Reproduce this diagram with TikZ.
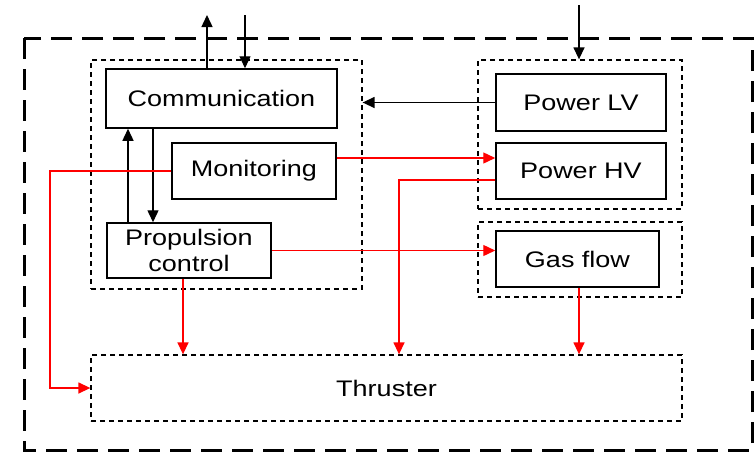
\documentclass[tikz,border=0pt]{standalone}
\usepackage{fontspec}
\setmainfont{Liberation Sans}[FakeStretch=1.2]
\usepackage{xcolor}
\usepackage{tikz}
\usetikzlibrary{arrows.meta, positioning, calc}

\tikzset{
  block/.style={draw, line width=1.5pt, inner sep=0pt, align=center},
  group/.style={draw, line width=1.3pt, dash pattern=on 5pt off 4pt, inner sep=0pt},
  arr/.style={line width=1.4pt, -{Triangle[length=12pt,width=11pt]}},
  redarr/.style={arr, red},
  redline/.style={line width=1.4pt, red}
}

\begin{document}
\begin{tikzpicture}[x=1pt, y=-1pt, font=\fontsize{22.5}{27}\selectfont]
\useasboundingbox (0,0) rectangle (756,453);

% outer frame
\draw[line width=3pt, dash pattern=on 21pt off 10pt] (24,38) rectangle (752,450);

% groups
\node[group, minimum width=271pt, minimum height=229pt] (ctrlgrp) at (226.5,174.5) {};
\node[group, minimum width=204pt, minimum height=149pt] (pwrgrp) at (580,134.5) {};
\node[group, minimum width=204pt, minimum height=75pt] (gasgrp) at (580,259.5) {};
\node[group, minimum width=591pt, minimum height=66pt] (thr) at (386.5,388) {Thruster};

% blocks
\node[block, minimum width=231pt, minimum height=59pt] (comm) at (221.5,98.5) {Communication};
\node[block, minimum width=164pt, minimum height=56pt] (mon) at (254,171) {Monitoring};
\node[block, minimum width=164pt, minimum height=55pt] (prop) at (189,250.5) {Propulsion\\[-1pt]control};
\node[block, minimum width=170pt, minimum height=57pt] (plv) at (581,102.5) {Power LV};
\node[block, minimum width=170pt, minimum height=56pt] (phv) at (581,171) {Power HV};
\node[block, minimum width=163pt, minimum height=56pt] (gas) at (577.5,259) {Gas flow};

% external signals
\coordinate (upout) at (207,15);
\coordinate (downin) at (245,15);
\coordinate (pwrin) at (579,5);
\draw[arr] (comm.north -| upout) -- (upout);
\draw[arr] (downin) -- (downin |- comm.north);
\draw[arr] (pwrin) -- (pwrin |- pwrgrp.north);

% control links
\draw[arr] (plv.west) -- (plv.west -| ctrlgrp.east);
\draw[arr] ([xshift=-61pt]prop.north) -- ([xshift=-61pt]prop.north |- comm.south);
\draw[arr] ([xshift=-36pt]comm.south -| prop.north) -- ([xshift=-36pt]prop.north);

% power and gas links
\coordinate (lbus) at (50,388);
\draw[redarr] ([yshift=13pt]mon.east) -- ([yshift=13pt]mon.east -| phv.west);
\draw[redarr] (prop.east) -- (prop.east -| gas.west);
\draw[redarr] ([yshift=-9pt]phv.west) -| ([xshift=12.5pt]thr.north);
\draw[redarr] (mon.west) -| (lbus) -- (thr.west);
\draw[redarr] ([xshift=-6pt]prop.south) -- ([xshift=-6pt]prop.south |- thr.north);
\draw[redarr] ([xshift=1.5pt]gas.south) -- ([xshift=1.5pt]gas.south |- thr.north);
\end{tikzpicture}
\end{document}
